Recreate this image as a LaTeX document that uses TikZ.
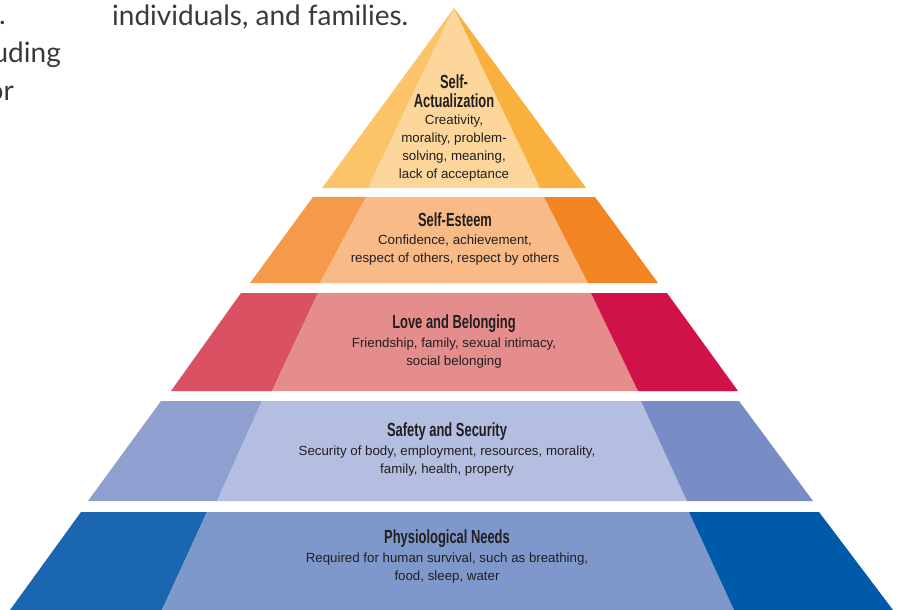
\documentclass[tikz,border=0pt]{standalone}
\usepackage{fontspec}
\setmainfont{Liberation Sans}
\newfontfamily\titlefont[FakeStretch=0.68]{Liberation Sans Bold}
\newfontfamily\headfont{Lato}
\definecolor{aL}{HTML}{FCC468}\definecolor{aC}{HTML}{FCD69B}\definecolor{aR}{HTML}{F9B03C}
\definecolor{bL}{HTML}{F59A4B}\definecolor{bC}{HTML}{F8BB87}\definecolor{bR}{HTML}{F28422}
\definecolor{cL}{HTML}{D95162}\definecolor{cC}{HTML}{E58C8C}\definecolor{cR}{HTML}{D01249}
\definecolor{dL}{HTML}{8E9FD0}\definecolor{dC}{HTML}{B3BEE0}\definecolor{dR}{HTML}{788CC6}
\definecolor{eL}{HTML}{1B66B0}\definecolor{eC}{HTML}{7F98CC}\definecolor{eR}{HTML}{005AAA}
\definecolor{txt}{HTML}{231F20}
\definecolor{head}{HTML}{3A3A3A}
\tikzset{
  titletext/.style={inner sep=0pt, align=center, text=txt, font=\titlefont\fontsize{19}{19}\selectfont},
  bodytext/.style={inner sep=0pt, align=center, text=txt, font=\fontsize{13.3}{18}\selectfont},
  headtext/.style={inner sep=0pt, text=head, font=\headfont\fontsize{28}{34}\selectfont},
}
\begin{document}
\begin{tikzpicture}[x=1pt,y=-1pt]
\useasboundingbox (0,0) rectangle (902,610);
\clip (0,0) rectangle (902,610);
% header fragments
\node[headtext, anchor=base west] (h1) at (112,26) {individuals, and families.};
\node[headtext, anchor=base east] (h2) at (6,25) {.};
\node[headtext, anchor=base east] (h3) at (61,63) {uding};
\node[headtext, anchor=base east] (h4) at (14,100) {or};
% tier 1
\fill[aL] (454,8) -- (368,188) -- (322,188) -- cycle;
\fill[aC] (454,8) -- (540,188) -- (368,188) -- cycle;
\fill[aR] (454,8) -- (586,188) -- (540,188) -- cycle;
% tier 2
\fill[bL] (313,197) -- (366,197) -- (320,283) -- (250,283) -- cycle;
\fill[bC] (366,197) -- (544,197) -- (588,283) -- (320,283) -- cycle;
\fill[bR] (544,197) -- (595,197) -- (658,283) -- (588,283) -- cycle;
% tier 3
\fill[cL] (241,293) -- (318,293) -- (272,391) -- (171,391) -- cycle;
\fill[cC] (318,293) -- (591,293) -- (638,391) -- (272,391) -- cycle;
\fill[cR] (591,293) -- (667,293) -- (738,391) -- (638,391) -- cycle;
% tier 4
\fill[dL] (161,401) -- (262,401) -- (217,501) -- (88,501) -- cycle;
\fill[dC] (262,401) -- (641,401) -- (687,501) -- (217,501) -- cycle;
\fill[dR] (641,401) -- (739,401) -- (813,501) -- (687,501) -- cycle;
% tier 5
\fill[eL] (81,512) -- (207,512) -- (162,610) -- (10,610) -- cycle;
\fill[eC] (207,512) -- (689,512) -- (734,610) -- (162,610) -- cycle;
\fill[eR] (689,512) -- (819,512) -- (893,610) -- (734,610) -- cycle;
% texts
\node[titletext] (t1) at (454,91) {Self-\\Actualization};
\node[bodytext] (b1) at (454,148) {Creativity,\\morality, problem-\\solving, meaning,\\lack of acceptance};
\node[titletext] (t2) at (455,220) {Self-Esteem};
\node[bodytext] (b2) at (455,250) {Confidence, achievement,\\respect of others, respect by others};
\node[titletext] (t3) at (454,324) {Love and Belonging};
\node[bodytext] (b3) at (454,353) {Friendship, family, sexual intimacy,\\social belonging};
\node[titletext] (t4) at (447,432) {Safety and Security};
\node[bodytext] (b4) at (447,461) {Security of body, employment, resources, morality,\\family, health, property};
\node[titletext] (t5) at (447,539) {Physiological Needs};
\node[bodytext] (b5) at (447,568) {Required for human survival, such as breathing,\\food, sleep, water};
\end{tikzpicture}
\end{document}
